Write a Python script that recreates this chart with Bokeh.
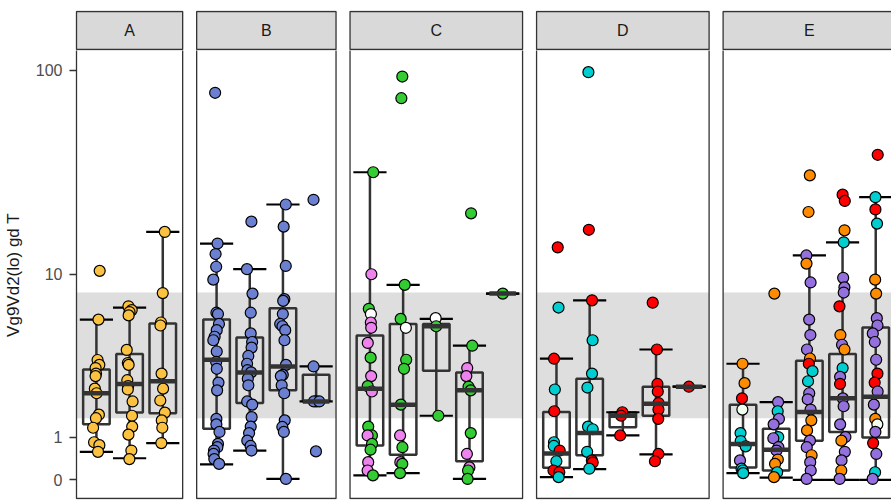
import numpy as np
from bokeh.plotting import figure
from bokeh.layouts import column
from bokeh.models import ColumnDataSource, FixedTicker, CustomJSTickFormatter, Range1d
from bokeh.transform import jitter
from bokeh.core.properties import value
from bokeh.embed import file_html
from bokeh.resources import INLINE

# ---------------- data ----------------
panels = ["A", "B", "C", "D", "E"]
n_groups = [3, 4, 5, 5, 5]
ref_low, ref_high = 1.5, 8.1
y_ticks = [0, 1, 10, 100]
y_title = "Vg9Vd2(lo) gd T"

palette = {"Y": "#FBC140", "B": "#6B80D1", "G": "#33CC33", "P": "#EE82EE", "W": "#FFFFFF",
           "C": "#00CED1", "R": "#FF0000", "O": "#FF8C00", "U": "#9370DB", "H": "#F0FFF0"}

a_vals = [[10.4, 5.9, 3.59, 3.37, 3.23, 3.0, 2.9, 2.43, 2.27, 1.6, 1.5, 1.24, 0.87, 0.8, 0.64],
          [6.9, 6.6, 6.45, 6.2, 4.08, 3.45, 3.37, 2.74, 2.52, 2.4, 2.0, 1.57, 1.27, 1.06, 0.67, 0.47],
          [16.2, 8.05, 5.7, 5.5, 3.0, 2.43, 2.03, 1.66, 1.44, 1.24, 0.85]]
a_cols = ["YYYYYYYYYYYYYYY", "YYYYYYYYYYYYYYYY", "YYYYYYYYYYY"]

b_vals = [[77.8, 14.2, 12.6, 10.9, 9.4, 6.4, 6.3, 5.6, 5.2, 4.8, 4.6, 4.0, 3.5, 3.2, 2.65, 2.37,
           1.48, 1.33, 1.13, 0.83, 0.75, 0.67, 0.59, 0.47, 0.36],
          [18.2, 10.6, 8.0, 6.4, 5.0, 4.5, 4.2, 3.78, 3.42, 3.14, 3.05, 2.8, 2.55, 2.0, 1.9, 1.53,
           1.27, 1.1, 0.91, 0.78, 0.67],
          [22.1, 17.2, 11.0, 7.5, 7.35, 6.3, 5.6, 5.45, 5.2, 4.6, 3.37, 2.95, 2.9, 2.55, 2.27, 1.44,
           1.26, 1.13, 0.02],
          [23.3, 3.3, 2.0, 2.0, 2.0, 0.65]]
b_cols = ["BBBBBBBBBBBBBBBBBBBBBBBBB", "BBBBBBBBBBBBBBBBBBBBB", "BBBBBBBBBBBBBBBBBBB", "BBBBBB"]

c_vals = [[31.8, 10.0, 6.7, 6.3, 5.7, 5.35, 4.45, 3.7, 2.9, 2.52, 2.33, 1.27, 1.04, 1.04, 0.83, 0.69, 0.4, 0.21, 0.1],
          [93.4, 73.2, 8.85, 5.95, 5.35, 3.6, 3.2, 1.9, 1.04, 0.75, 0.4, 0.36, 0.15],
          [6.0, 5.45, 1.57],
          [20.0, 4.3, 3.23, 2.9, 2.5, 2.37, 1.1, 0.59, 0.28, 0.21, 0.02],
          [8.0]]
c_cols = ["GPGWPPPGPGPGGPGGPPG", "GGGGWGGGPGPGG", "WGG", "GGPPGGGPPGG", "G"]

d_vals = [[13.6, 6.8, 3.65, 2.4, 1.7, 0.87, 0.78, 0.67, 0.42, 0.21, 0.17, 0.06],
          [98.1, 16.6, 7.4, 4.6, 3.0, 2.47, 1.27, 1.2, 0.64, 0.44, 0.39, 0.25],
          [1.67, 1.57, 1.04],
          [7.2, 4.1, 2.6, 2.33, 1.95, 1.75, 1.48, 0.59, 0.42],
          [2.5]]
d_cols = ["RCRCRCCRCRRC", "CRRCCCCCCRRC", "RRR", "RRRRRRRRR", "R"]

e_vals = [[3.42, 2.63, 2.1, 1.75, 1.1, 0.9, 0.77, 0.44, 0.25, 0.21, 0.15],
          [8.0, 1.98, 1.7, 1.48, 1.33, 1.0, 0.97, 0.75, 0.67, 0.46, 0.36, 0.17, 0.06],
          [30.7, 20.3, 12.4, 11.3, 9.1, 5.9, 4.9, 4.1, 3.66, 3.42, 3.1, 2.7, 2.27, 2.07, 1.75, 1.44,
           1.17, 0.91, 0.75, 0.56, 0.4, 0.21, 0.02],
          [24.7, 23.0, 16.5, 14.4, 9.6, 8.6, 8.1, 6.9, 4.9, 4.35, 4.1, 3.23, 2.87, 2.6, 2.1, 1.85,
           1.33, 1.0, 0.91, 0.64, 0.44, 0.21, 0.02],
          [38.7, 24.0, 20.9, 17.8, 9.4, 8.0, 6.0, 5.5, 5.0, 4.5, 3.6, 3.0, 2.65, 2.33, 1.9, 1.48,
           1.33, 1.13, 0.85, 0.59, 0.17, 0.02]]
e_cols = ["OORHCCCUCCC", "OUCUUCUUUOOCO", "OOUOUUUUORCCUUUOOUUOUUU",
          "RROCUUUROUOCURUUUUOUUOU", "RCRCOOUUUUURRUUOHURUCU"]

# box statistics per group
box_panel = [0, 0, 0, 1, 1, 1, 1, 2, 2, 2, 2, 2, 3, 3, 3, 3, 3, 4, 4, 4, 4, 4]
box_group = [0, 1, 2, 0, 1, 2, 3, 0, 1, 2, 3, 4, 0, 1, 2, 3, 4, 0, 1, 2, 3, 4]
box_lo  = [0.64, 0.49, 0.85, 0.35, 0.67, 0.02, 2.0, 0.1, 0.15, 1.57, 0.02, 8.0, 0.06, 0.24, 1.04, 0.58, 2.5, 0.15, 0.05, 0.0, 0.0, 0.0]
box_q1  = [1.33, 1.66, 1.64, 1.21, 1.95, 2.37, 2.0, 0.79, 0.57, 3.12, 0.42, 8.0, 0.27, 0.56, 1.25, 1.57, 2.5, 0.28, 0.21, 0.91, 1.13, 0.99]
box_med = [2.27, 2.6, 2.7, 3.6, 3.05, 3.3, 2.0, 2.43, 1.9, 5.45, 2.37, 8.0, 0.6, 1.1, 1.57, 1.93, 2.5, 0.83, 0.69, 1.68, 2.1, 2.15]
box_q3  = [3.17, 3.87, 5.63, 5.9, 4.75, 6.75, 2.95, 4.87, 5.6, 5.6, 3.05, 8.0, 1.68, 2.8, 1.66, 2.5, 2.5, 1.9, 1.21, 3.55, 3.87, 5.37]
box_hi  = [5.9, 6.8, 16.2, 14.2, 10.6, 22.1, 3.3, 31.8, 8.85, 5.95, 4.3, 8.0, 3.65, 7.4, 1.67, 4.1, 2.5, 3.42, 1.98, 12.4, 14.4, 24.0]

# ---------------- geometry (layout only) ----------------
def tr(v):
    return np.arcsinh(np.asarray(v, dtype=float) / 2.0)

U = 33.18          # px per x unit
PY = 88.88         # px per transformed y unit
Y0 = 479.3         # page y of value 0
W = 891
MB_LEFT = 74
STRIP_H = 50
MAIN_H = 451
MB_BOTTOM = 2

def t_of_page(y):
    return (Y0 - y) / PY

x_start = -(76 - MB_LEFT) / U
x_end = x_start + (W - MB_LEFT) / U
xr = Range1d(x_start, x_end)
gap = 14.0 / U

lefts = []
pos = 0.0
for n in n_groups:
    lefts.append(pos)
    pos += n + 0.2 + gap
rights = [l + n + 0.2 for l, n in zip(lefts, n_groups)]

common = dict(output_backend="svg", toolbar_location=None, x_range=xr, x_axis_type=None,
              min_border_left=MB_LEFT, min_border_right=0)

# ---- strip row ----
s = figure(width=W, height=STRIP_H, y_range=(t_of_page(STRIP_H), t_of_page(10)), y_axis_type=None,
           min_border_top=10, min_border_bottom=0, **common)
s.outline_line_color = None
s.grid.visible = False
s.quad(left=lefts, right=rights, bottom=t_of_page(49), top=t_of_page(11),
       fill_color="#D9D9D9", line_color="#333333", line_width=1.3)
s.text(x=[(l + r) / 2 for l, r in zip(lefts, rights)], y=[t_of_page(30)] * len(panels),
       text=panels, text_align="center", text_baseline="middle",
       text_font=value("Liberation Sans"), text_font_size="16px", text_color="#1A1A1A")

# ---- panels ----
p = figure(width=W, height=MAIN_H, y_range=(t_of_page(STRIP_H + MAIN_H - MB_BOTTOM), t_of_page(STRIP_H)),
           min_border_top=0, min_border_bottom=MB_BOTTOM, **common)
p.outline_line_color = None
p.grid.visible = False

p.quad(left=lefts, right=rights, bottom=tr(ref_low), top=tr(ref_high),
       fill_color="#DEDEDE", line_color=None)

bx = np.array([lefts[pi] + 0.6 + g for pi, g in zip(box_panel, box_group)])
p.segment(x0=bx, y0=tr(box_lo), x1=bx, y1=tr(box_hi), line_color="#333333", line_width=2.5)
p.quad(left=bx - 0.4, right=bx + 0.4, bottom=tr(box_q1), top=tr(box_q3),
       fill_color=None, line_color="#333333", line_width=2.5)
p.segment(x0=bx - 0.5, y0=tr(box_lo), x1=bx + 0.5, y1=tr(box_lo), line_color="black", line_width=2.2)
p.segment(x0=bx - 0.5, y0=tr(box_hi), x1=bx + 0.5, y1=tr(box_hi), line_color="black", line_width=2.2)

px, pv, pc = [], [], []
for pi, (vals, cols) in enumerate([(a_vals, a_cols), (b_vals, b_cols), (c_vals, c_cols),
                                   (d_vals, d_cols), (e_vals, e_cols)]):
    for g, (vs, cs) in enumerate(zip(vals, cols)):
        for v, c in zip(vs, cs):
            px.append(lefts[pi] + 0.6 + g)
            pv.append(v)
            pc.append(palette[c])
src = ColumnDataSource(dict(x=px, t=tr(pv), color=pc))
p.scatter(x=jitter("x", width=0.2), y="t", source=src, size=11, fill_color="color",
          line_color="black", line_width=1.2)

# median bar drawn over the points
p.segment(x0=bx - 0.4, y0=tr(box_med), x1=bx + 0.4, y1=tr(box_med), line_color="#333333", line_width=4.5)

p.quad(left=lefts, right=rights, bottom=t_of_page(498), top=t_of_page(49),
       fill_color=None, line_color="#333333", line_width=1.3)

p.yaxis.ticker = FixedTicker(ticks=list(tr(y_ticks)))
p.yaxis.formatter = CustomJSTickFormatter(code="return String(Math.round(2*Math.sinh(tick)));")
p.yaxis.axis_line_color = None
p.yaxis.major_tick_line_color = "#333333"
p.yaxis.major_tick_line_width = 1.5
p.yaxis.major_tick_out = 5
p.yaxis.major_tick_in = 2
p.yaxis.minor_tick_line_color = None
p.yaxis.major_label_text_font = "Liberation Sans"
p.yaxis.major_label_text_font_size = "16px"
p.yaxis.major_label_text_color = "#4D4D4D"
p.yaxis.major_label_standoff = 7
p.yaxis.axis_label = y_title
p.yaxis.axis_label_text_font = "Liberation Sans"
p.yaxis.axis_label_text_font_size = "17px"
p.yaxis.axis_label_text_font_style = "normal"
p.yaxis.axis_label_text_color = "#1A1A1A"
p.yaxis.axis_label_standoff = 10

layout = column(s, p, spacing=0)
open("out.html", "w").write(file_html(layout, INLINE))
